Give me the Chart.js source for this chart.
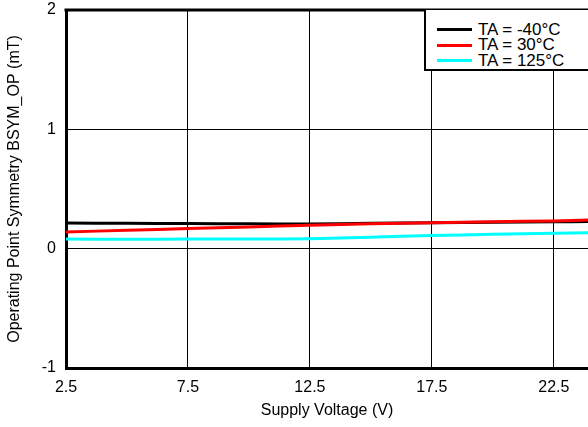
<!DOCTYPE html>
<html>
<head>
<meta charset="utf-8">
<script src="https://cdn.jsdelivr.net/npm/chart.js@4/dist/chart.umd.min.js"></script>
<style>
  html, body { margin: 0; padding: 0; background: #fff; overflow: hidden; }
  #wrap { position: relative; width: 588px; height: 427px; }
  #legend {
    position: absolute; left: 424px; top: 10px; width: 164px; height: 61px;
    background: #fff; border-left: 2px solid #000; border-bottom: 2px solid #000;
    font-family: "Liberation Sans", Arial, sans-serif; font-size: 17px; color: #000;
    box-sizing: border-box; padding-top: 12px;
  }
  .item { display: flex; align-items: center; height: 15.5px; }
  .swatch { width: 35px; height: 0; margin-left: 11px; margin-right: 6px; border-top: 3px solid; }
</style>
</head>
<body>
<div id="wrap">
  <canvas id="chart" width="588" height="427"></canvas>
  <div id="legend"></div>
</div>
<script>
const voltages = [2.5, 5, 7.5, 10, 12.5, 15, 17.5, 20, 22.5, 24];
const tempLabels = ['TA = -40°C', 'TA = 30°C', 'TA = 125°C'];
const seriesM40 = [0.215, 0.212, 0.210, 0.208, 0.207, 0.212, 0.218, 0.222, 0.225, 0.228];
const series30 = [0.140, 0.154, 0.168, 0.182, 0.196, 0.208, 0.218, 0.226, 0.232, 0.240];
const series125 = [0.080, 0.079, 0.080, 0.081, 0.084, 0.096, 0.110, 0.120, 0.129, 0.133];
const xTicks = [2.5, 7.5, 12.5, 17.5, 22.5];
const yTicks = [-1, 0, 1, 2];
const colors = ['#000000', '#ff0000', '#00ffff'];

const FONT = '"Liberation Sans", Arial, sans-serif';

function pts(vals) {
    return voltages.map((v, i) => ({ x: v, y: vals[i] }));
}

const allSeries = [seriesM40, series30, series125];

// top edge of the frame, Chart.js only draws the axis borders
const topBorder = {
    id: 'topBorder',
    afterDraw(chart) {
        const { ctx, chartArea } = chart;
        ctx.save();
        ctx.strokeStyle = '#000';
        ctx.lineWidth = 3;
        ctx.beginPath();
        ctx.moveTo(chartArea.left - 1.5, chartArea.top);
        ctx.lineTo(chartArea.right, chartArea.top);
        ctx.stroke();
        ctx.restore();
    }
};

new Chart(document.getElementById('chart').getContext('2d'), {
    type: 'line',
    data: {
        datasets: allSeries.map((s, i) => ({
            label: tempLabels[i],
            data: pts(s),
            borderColor: colors[i],
            borderWidth: 3,
            pointRadius: 0,
            tension: 0.3,
            order: 2 - i
        }))
    },
    options: {
        responsive: false,
        animation: false,
        layout: { padding: { top: 10, right: 0, left: 0, bottom: 0 } },
        plugins: { legend: { display: false }, tooltip: { enabled: false } },
        scales: {
            x: {
                type: 'linear',
                min: 2.5,
                max: 23.9,
                afterBuildTicks: (scale) => { scale.ticks = xTicks.map(v => ({ value: v })); },
                afterFit: (scale) => { scale.height = 59; scale.paddingRight = 0; },
                grid: { color: '#000', lineWidth: 1, drawTicks: false },
                border: { color: '#000', width: 3 },
                ticks: {
                    color: '#000', padding: 10, maxRotation: 0,
                    font: { family: FONT, size: 16 },
                    callback: (v) => v.toFixed(1)
                },
                title: {
                    display: true, text: 'Supply Voltage (V)', color: '#000',
                    font: { family: FONT, size: 16 }, padding: { top: 0, bottom: 7 }
                }
            },
            y: {
                min: -1,
                max: 2,
                afterBuildTicks: (scale) => { scale.ticks = yTicks.map(v => ({ value: v })); },
                afterFit: (scale) => { scale.width = 66; scale.paddingTop = 0; scale.paddingBottom = 0; },
                grid: { color: '#000', lineWidth: 1, drawTicks: false },
                border: { color: '#000', width: 3 },
                ticks: {
                    color: '#000', padding: 10,
                    font: { family: FONT, size: 16 }
                },
                title: {
                    display: true, text: 'Operating Point Symmetry BSYM_OP (mT)', color: '#000',
                    font: { family: FONT, size: 16 }, padding: { top: 5, bottom: 0 }
                }
            }
        }
    },
    plugins: [topBorder]
});

const legend = document.getElementById('legend');
tempLabels.forEach((label, i) => {
    const row = document.createElement('div');
    row.className = 'item';
    const sw = document.createElement('span');
    sw.className = 'swatch';
    sw.style.borderTopColor = colors[i];
    const txt = document.createElement('span');
    txt.textContent = label;
    row.appendChild(sw);
    row.appendChild(txt);
    legend.appendChild(row);
});
</script>
</body>
</html>
